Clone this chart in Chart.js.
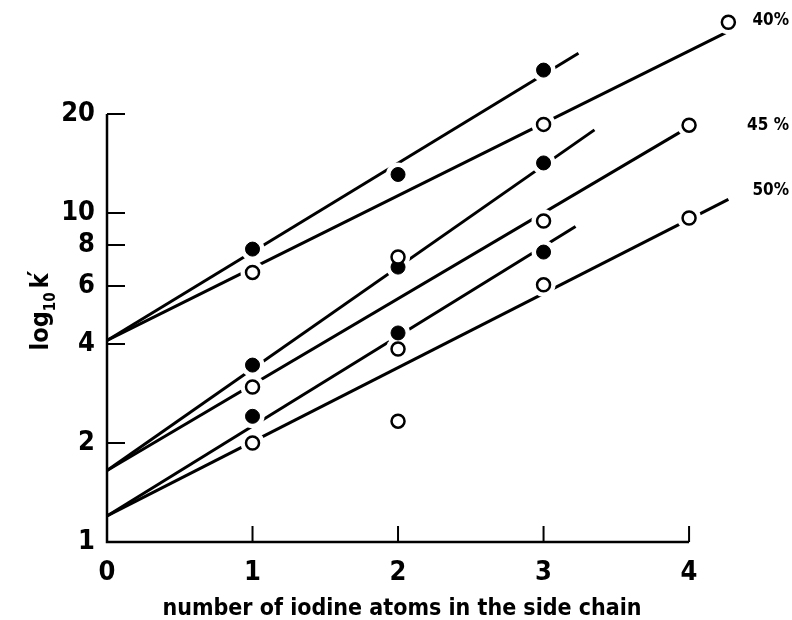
<!DOCTYPE html>
<html>
<head>
<meta charset="utf-8">
<script src="https://cdn.jsdelivr.net/npm/chart.js@4.4.1/dist/chart.umd.min.js"></script>
<style>
  body { margin: 0; background: #fff; }
  #wrap { width: 792px; height: 620px; }
</style>
</head>
<body>
<div id="wrap"><canvas id="iodineChart" width="792" height="620"></canvas></div>
<script>
// axis ticks
const xTicks = [0, 1, 2, 3, 4];
const yTicks = [1, 2, 4, 6, 8, 10, 20];

// open circles, one set per eluent strength
const open40X = [1, 3, 4.27];
const open40Y = [6.6, 18.6, 38];
const open45X = [1, 2, 3, 4];
const open45Y = [2.96, 7.35, 9.46, 18.5];
const open50X = [1, 2, 2, 3, 4];
const open50Y = [2.0, 3.86, 2.33, 6.05, 9.66];

// filled circles
const fillTopX = [1, 2, 3];
const fillTopY = [7.77, 13.1, 27.2];
const fillMidX = [1, 2, 3];
const fillMidY = [3.45, 6.85, 14.2];
const fillLowX = [1, 2, 3];
const fillLowY = [2.41, 4.32, 7.61];

// straight lines (start / end)
const line40X = [0, 4.26],  line40Y = [4.1, 35.5];
const lineTopX = [0, 3.24], lineTopY = [4.1, 30.6];
const line45X = [0, 4.02],  line45Y = [1.65, 18.5];
const lineMidX = [0, 3.35], lineMidY = [1.65, 17.9];
const line50X = [0, 4.27],  line50Y = [1.2, 11.0];
const lineLowX = [0, 3.22], lineLowY = [1.2, 9.1];

const seriesLabels = ["40%", "45 %", "50%"];

const FONT = "'Liberation Sans Narrow', 'DejaVu Sans Condensed', 'Liberation Sans', sans-serif";

const pts = (xs, ys) => xs.map((x, i) => ({ x: x, y: ys[i] }));

const openSets = [pts(open40X, open40Y), pts(open45X, open45Y), pts(open50X, open50Y)];
const fillSets = [pts(fillTopX, fillTopY), pts(fillMidX, fillMidY), pts(fillLowX, fillLowY)];
const lineSets = [
  pts(line40X, line40Y), pts(lineTopX, lineTopY),
  pts(line45X, line45Y), pts(lineMidX, lineMidY),
  pts(line50X, line50Y), pts(lineLowX, lineLowY)
];

const datasets = [];
openSets.forEach(d => datasets.push({
  data: d, order: 0, clip: false, showLine: false,
  pointRadius: 6.5, pointBackgroundColor: "#fff",
  pointBorderColor: "#000", pointBorderWidth: 2.5
}));
fillSets.forEach(d => datasets.push({
  data: d, order: 0, clip: false, showLine: false,
  pointRadius: 7, pointBackgroundColor: "#000",
  pointBorderColor: "#000", pointBorderWidth: 1
}));
// white halo behind markers to break the lines like the original
openSets.concat(fillSets).forEach(d => datasets.push({
  data: d, order: 1, clip: false, showLine: false,
  pointRadius: 12, pointBackgroundColor: "#fff", pointBorderWidth: 0
}));
lineSets.forEach(d => datasets.push({
  data: d, order: 2, clip: false, showLine: true,
  borderColor: "#000", borderWidth: 3, pointRadius: 0
}));

// axis lines, inward ticks and free text
const axesAndText = {
  id: "axesAndText",
  afterDatasetsDraw(chart) {
    const { ctx, scales: { x, y } } = chart;
    const x0 = x.getPixelForValue(0), x4 = x.getPixelForValue(4);
    const y1 = y.getPixelForValue(1), y20 = y.getPixelForValue(20);
    ctx.save();
    ctx.strokeStyle = "#000";
    ctx.lineWidth = 2.5;
    ctx.beginPath();
    ctx.moveTo(x0, y20);
    ctx.lineTo(x0, y1);
    ctx.lineTo(x4, y1);
    ctx.stroke();
    ctx.lineWidth = 2;
    ctx.beginPath();
    xTicks.slice(1).forEach(v => {
      const px = x.getPixelForValue(v);
      ctx.moveTo(px, y1); ctx.lineTo(px, y1 - 16);
    });
    yTicks.slice(1).forEach(v => {
      const py = y.getPixelForValue(v);
      ctx.moveTo(x0, py); ctx.lineTo(x0 + 18, py);
    });
    ctx.stroke();

    ctx.fillStyle = "#000";
    // x title
    ctx.font = "bold 23px " + FONT;
    ctx.textAlign = "center";
    ctx.textBaseline = "alphabetic";
    ctx.fillText("number of iodine atoms in the side chain", (x0 + x4) / 2 + 4, 615);

    // y title: log10 k'
    ctx.save();
    ctx.translate(48, 312);
    ctx.rotate(-Math.PI / 2);
    ctx.textAlign = "left";
    const big = "bold 25px " + FONT, small = "bold 15px " + FONT;
    ctx.font = big; const wLog = ctx.measureText("log").width; const wK = ctx.measureText("k").width;
    ctx.font = small; const wSub = ctx.measureText("10").width;
    let u = -(wLog + wSub + 4 + wK) / 2;
    ctx.font = big; ctx.fillText("log", u, 0); u += wLog;
    ctx.font = small; ctx.fillText("10", u, 7); u += wSub + 4;
    ctx.font = big; ctx.fillText("k", u, 0);
    ctx.fillText("\u2032", u + wK - 3, -3);
    ctx.restore();

    // series labels at right
    ctx.font = "bold 17px " + FONT;
    ctx.textAlign = "right";
    ctx.textBaseline = "middle";
    const ends = [open40Y[open40Y.length - 1], open45Y[open45Y.length - 1], line50Y[1]];
    const dy = [-2, 0, -9];
    seriesLabels.forEach((t, i) => {
      ctx.fillText(t, 789, y.getPixelForValue(ends[i]) + dy[i]);
    });
    ctx.restore();
  }
};

const tickFont = { family: FONT, size: 27, weight: "bold" };

new Chart(document.getElementById("iodineChart"), {
  type: "scatter",
  data: { datasets: datasets },
  options: {
    responsive: false,
    animation: false,
    layout: { padding: { top: 15, right: 52, left: 0, bottom: 0 } },
    plugins: { legend: { display: false }, tooltip: { enabled: false } },
    scales: {
      x: {
        type: "linear", min: 0, max: 4.35,
        grid: { display: false, drawTicks: false },
        border: { display: false },
        afterBuildTicks: s => { s.ticks = xTicks.map(v => ({ value: v })); },
        afterFit: s => { s.height = 78; s.paddingLeft = 0; s.paddingRight = 0; },
        ticks: { font: tickFont, color: "#000", padding: 15, maxRotation: 0, callback: v => String(v) }
      },
      y: {
        type: "logarithmic", min: 1, max: 40,
        grid: { display: false, drawTicks: false },
        border: { display: false },
        afterBuildTicks: s => { s.ticks = yTicks.map(v => ({ value: v })); },
        afterFit: s => { s.width = 107; s.paddingTop = 0; s.paddingBottom = 0; },
        ticks: { font: tickFont, color: "#000", padding: 12, callback: v => String(v) }
      }
    }
  },
  plugins: [axesAndText]
});
</script>
</body>
</html>
